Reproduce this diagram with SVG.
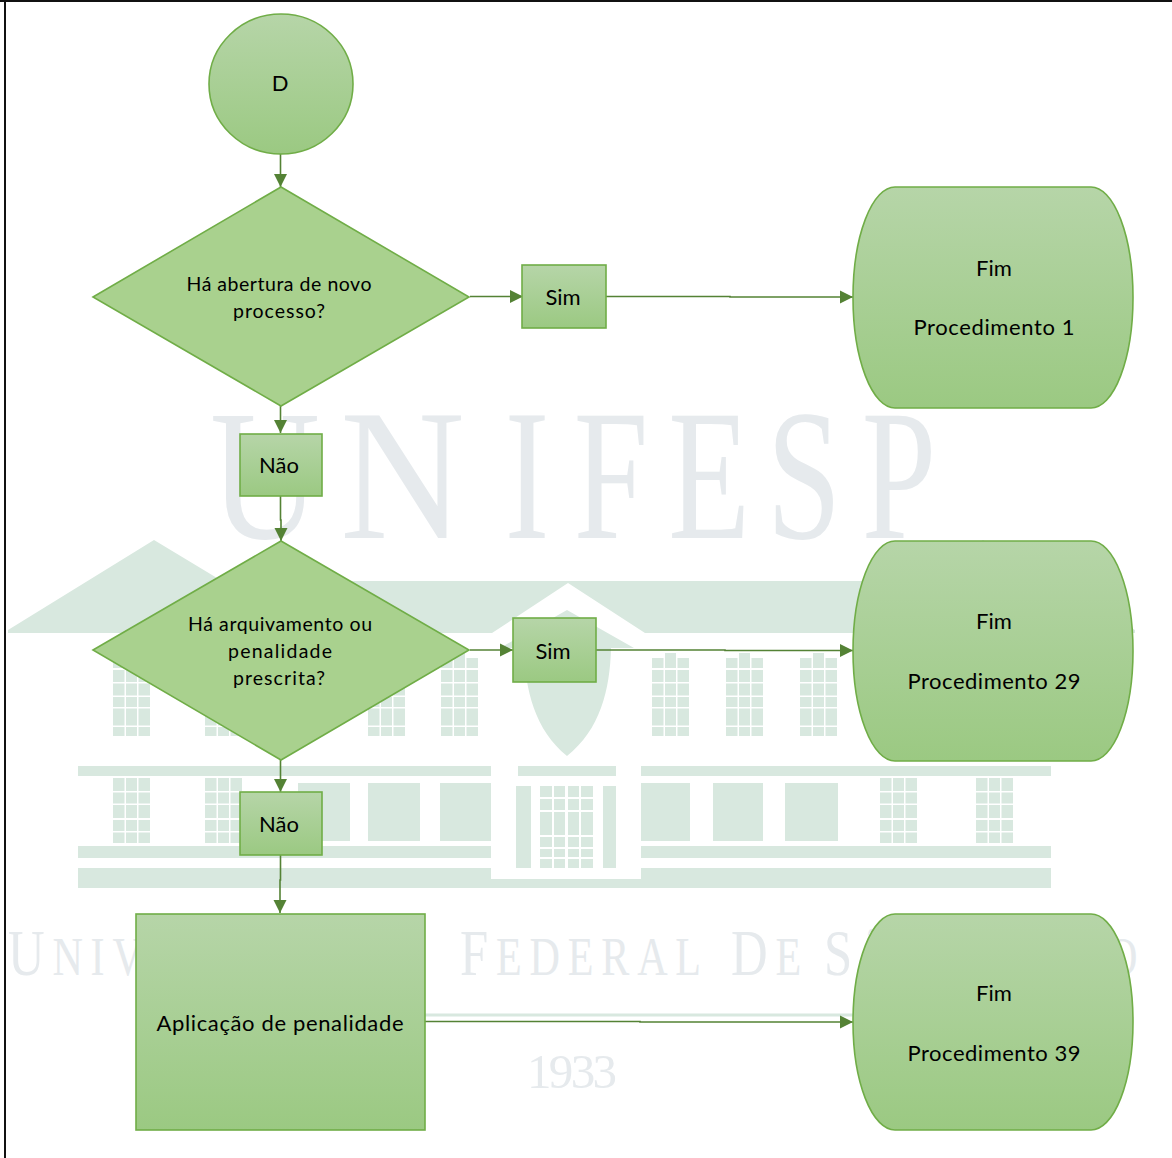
<svg xmlns="http://www.w3.org/2000/svg" width="1172" height="1158" viewBox="0 0 1172 1158">
<style>
.wm{fill:#d8e8df}
.wt{fill:#e6eaed;font-family:"Liberation Serif",serif}
.u{font-size:54px;letter-spacing:10px}
.u tspan{font-size:65px}
.n{stroke:#70ad47;stroke-width:1.6;fill:url(#g)}
.d{stroke:#70ad47;stroke-width:1.6;fill:#a9d18e}
.t{font-family:Lato,"Liberation Sans",sans-serif;fill:#000;text-anchor:middle}
.s{font-size:19.5px}
.m{font-size:22px}
.c{stroke:#548235;stroke-width:1.6;fill:none;marker-end:url(#a)}
</style>
<defs>
<linearGradient id="g" x1="0" y1="0" x2="0" y2="1"><stop offset="0" stop-color="#b6d5a8"/><stop offset="1" stop-color="#9bc982"/></linearGradient>
<marker id="a" markerUnits="userSpaceOnUse" markerWidth="14" markerHeight="14" refX="13" refY="7" orient="auto"><path d="M0,0.5 L13,7 L0,13.5 Z" fill="#548235"/></marker>
<g id="wu" class="wm">
<path d="M0,0h11.5v13h-11.5zM13,0h11v13h-11zM25.500,0h11.500v13h-11.500zM0,14.500h11.500v11h-11.500zM13,14.500h11v11h-11zM25.500,14.500h11.500v11h-11.500zM0,27h11.500v13h-11.500zM13,27h11v13h-11zM25.500,27h11.500v13h-11.500zM0,42h11.500v11h-11.500zM13,42h11v11h-11zM25.500,42h11.500v11h-11.500zM0,54.500h11.500v10.500h-11.500zM13,54.500h11v10.500h-11zM25.500,54.500h11.500v10.500h-11.500z"/>
</g>
<g id="wt" class="wm">
<path d="M0,15v-10h11.500v10zM13,15v-15h11v15zM25.500,15v-10h11.500v10z"/>
<path d="M0,17h11.500v12h-11.500zM13,17h11v12h-11zM25.500,17h11.500v12h-11.500zM0,30.500h11.500v12h-11.500zM13,30.500h11v12h-11zM25.500,30.500h11.500v12h-11.500zM0,44h11.500v10h-11.500zM13,44h11v10h-11zM25.500,44h11.500v10h-11.500zM0,55.500h11.500v17h-11.500zM13,55.500h11v17h-11zM25.500,55.500h11.500v17h-11.500zM0,74h11.500v9h-11.500zM13,74h11v9h-11zM25.500,74h11.500v9h-11.500z"/>
</g>
</defs>
<rect width="1172" height="1158" fill="#fff"/>
<g id="watermark">
<text class="wt" transform="translate(210,538) scale(.82,1)" font-size="186">U</text>
<text class="wt" transform="translate(340,538) scale(.93,1)" font-size="186">N</text>
<text class="wt" transform="translate(0,538) scale(.72,1)" font-size="186" x="701 797 928 1065 1197">IFESP</text>
<text class="wt u" transform="translate(8,975) scale(.78,1)"><tspan>U</tspan>NIVERSIDADE</text>
<text class="wt u" transform="translate(460,975) scale(.78,1)"><tspan>F</tspan>EDERAL</text>
<text class="wt u" transform="translate(731,975) scale(.78,1)"><tspan>D</tspan>E</text>
<text class="wt u" transform="translate(824,975) scale(.78,1)"><tspan>S</tspan>ÃO</text>
<text class="wt u" transform="translate(961,975) scale(.78,1)"><tspan>P</tspan>AULO</text>
<text class="wt" x="527" y="1088" font-size="49" textLength="90" lengthAdjust="spacing">1933</text>
<rect class="wm" x="425" y="1013.500" width="428" height="3"/>
<path class="wm" d="M8,630 L154,540 L222,581 H914 L983,540 L1135,630 L1135,633 H645 L568,583 L492,633 H8 Z"/>
<path class="wm" d="M567,610 L634,648 H611 C610,690 600,730 567,756 C535,730 525,690 524,648 H500 Z"/>
<use href="#wt" x="113" y="653"/><use href="#wt" x="205" y="653"/><use href="#wt" x="368" y="653"/><use href="#wt" x="441" y="653"/>
<use href="#wt" x="652" y="653"/><use href="#wt" x="726" y="653"/><use href="#wt" x="800" y="653"/>
<use href="#wu" x="113" y="778"/><use href="#wu" x="205" y="778"/><use href="#wu" x="880" y="778"/><use href="#wu" x="976" y="778"/>
<path class="wm" d="M78,766H491V776H78ZM518,766H616V776H518ZM641,766H1051V776H641ZM78,846H491V858H78ZM641,846H1051V858H641ZM78,868H491V879H641V868H1051V888H78Z"/>
<path class="wm" d="M298,783H350V841H298ZM368,783H420V841H368ZM440,783H491V841H440ZM641,783H690V841H641ZM713,783H763V841H713ZM785,783H838V841H785Z"/>
<path class="wm" d="M516,786H531V868H516ZM603,786H616V868H603Z"/>
<path class="wm" d="M540,786H552V797H540ZM554,786H565V797H554ZM568,786H579V797H568ZM581,786H593V797H581ZM540,799H552V810H540ZM554,799H565V810H554ZM568,799H579V810H568ZM581,799H593V810H581ZM540,812H552V835H540ZM554,812H565V835H554ZM568,812H579V835H568ZM581,812H593V835H581ZM540,837H552V847H540ZM554,837H565V847H554ZM568,837H579V847H568ZM581,837H593V847H581ZM540,849H552V857H540ZM554,849H565V857H554ZM568,849H579V857H568ZM581,849H593V857H581ZM540,859H552V868H540ZM554,859H565V868H554ZM568,859H579V868H568ZM581,859H593V868H581Z"/>
</g>
<path d="M5,1V1158M0,1H1172" stroke="#111" stroke-width="2" fill="none"/>
<g id="connectors">
<path class="c" d="M280.500,154V187"/>
<path class="c" d="M470,296.500H523"/>
<path class="c" d="M606,296.500H730V297H853"/>
<path class="c" d="M280.500,406V433"/>
<path class="c" d="M280.500,496V520H281V541"/>
<path class="c" d="M470,650H513"/>
<path class="c" d="M596,650H725V650.500H853"/>
<path class="c" d="M280.500,760V792"/>
<path class="c" d="M280.500,855V880H280V913"/>
<path class="c" d="M425,1021.500H640V1022H853"/>
</g>
<g id="node-d"><ellipse class="n" cx="281" cy="84" rx="72" ry="70"/><text class="t m" x="280" y="91" font-size="21">D</text></g>
<g id="node-q1"><path class="d" d="M93,297 L281,187 L469,297 L281,406 Z"/>
<text class="t s" x="279" y="291" textLength="185" lengthAdjust="spacing">Há abertura de novo</text>
<text class="t s" x="279" y="318" textLength="92" lengthAdjust="spacing">processo?</text></g>
<g id="node-sim1"><rect class="n" x="522" y="265" width="84" height="63"/><text class="t m" x="563" y="305">Sim</text></g>
<g id="node-fim1"><path class="n" d="M895,187H1091A42,110.500 0 0 1 1133,297.500A42,110.500 0 0 1 1091,408H895A42,110.500 0 0 1 853,297.500A42,110.500 0 0 1 895,187Z"/>
<text class="t m" x="994" y="276">Fim</text><text class="t m" x="994" y="335" textLength="161" lengthAdjust="spacing">Procedimento 1</text></g>
<g id="node-nao1"><rect class="n" x="240" y="434" width="82" height="62"/><text class="t m" x="279" y="473">Não</text></g>
<g id="node-q2"><path class="d" d="M93,650 L281,541 L469,650 L281,760 Z"/>
<text class="t s" x="280" y="631" textLength="184" lengthAdjust="spacing">Há arquivamento ou</text>
<text class="t s" x="280" y="658" textLength="104" lengthAdjust="spacing">penalidade</text>
<text class="t s" x="279" y="685" textLength="92" lengthAdjust="spacing">prescrita?</text></g>
<g id="node-sim2"><rect class="n" x="513" y="618" width="83" height="64"/><text class="t m" x="553" y="659">Sim</text></g>
<g id="node-fim2"><path class="n" d="M895,541H1091A42,110 0 0 1 1133,651A42,110 0 0 1 1091,761H895A42,110 0 0 1 853,651A42,110 0 0 1 895,541Z"/>
<text class="t m" x="994" y="629">Fim</text><text class="t m" x="994" y="689" textLength="173" lengthAdjust="spacing">Procedimento 29</text></g>
<g id="node-nao2"><rect class="n" x="240" y="792" width="82" height="63"/><text class="t m" x="279" y="832">Não</text></g>
<g id="node-pen"><rect class="n" x="136" y="914" width="289" height="216"/><text class="t m" x="280" y="1031" textLength="247" lengthAdjust="spacing">Aplicação de penalidade</text></g>
<g id="node-fim3"><path class="n" d="M895,914H1091A42,108 0 0 1 1133,1022A42,108 0 0 1 1091,1130H895A42,108 0 0 1 853,1022A42,108 0 0 1 895,914Z"/>
<text class="t m" x="994" y="1001">Fim</text><text class="t m" x="994" y="1061" textLength="173" lengthAdjust="spacing">Procedimento 39</text></g>
</svg>
